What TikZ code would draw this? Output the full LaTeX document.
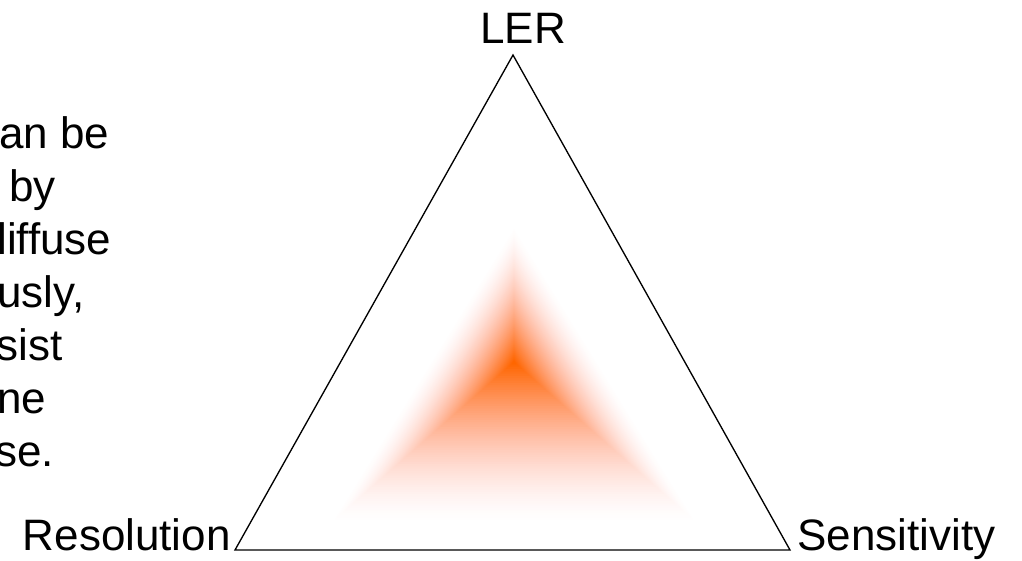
\documentclass[tikz,border=0pt]{standalone}
\usepackage{fontspec}
\setmainfont{Liberation Sans}
\usetikzlibrary{calc}
\definecolor{glow}{RGB}{255,102,0}
\definecolor{coral}{RGB}{255,80,60}
\begin{document}
\begin{tikzpicture}[
	x=0.75pt, y=-0.75pt,
	txt/.style={ inner sep=0pt, font=\fontsize{33}{40}\selectfont },
	side/.style={ draw, line width=1pt }
]
\useasboundingbox (0,0) rectangle (1022,561);
\clip (0,0) rectangle (1022,561);

\node[txt, anchor=base west] at (-1,148) (t1) {an be};
\node[txt, anchor=base west] at (9,201) (t2) {by};
\node[txt, anchor=base west] at (-3,254) (t3) {liffuse};
\node[txt, anchor=base west] at (-3,307) (t4) {usly,};
\node[txt, anchor=base west] at (-4,360) (t5) {sist};
\node[txt, anchor=base west] at (-3,413) (t6) {ne};
\node[txt, anchor=base west] at (-5,466) (t7) {se.};

\coordinate (gc) at (514,362);
\coordinate (ga) at (514,226);
\coordinate (gl) at (330,524);
\coordinate (gr) at (698,524);
\foreach \k in {0,...,69} {
	\pgfmathsetmacro{\s}{1-\k/70}
	\pgfmathsetmacro{\h}{100*\k/69}
	\pgfmathsetmacro{\p}{100*(\k/69)^1.5}
	\colorlet{hue}{glow!\h!coral}
	\fill[hue!\p!white] ($(gc)!\s!(ga)$) -- ($(gc)!\s!(gl)$) -- ($(gc)!\s!(gr)$) -- cycle;
}

\coordinate (ler) at (513,55);
\coordinate (res) at (235,550);
\coordinate (sen) at (790,550);
\draw[side] (ler) -- (res) -- (sen) -- cycle;
\node[txt, anchor=base] at (523,43) (lerlab) {LER};
\node[txt, anchor=base east] at (231,550) (reslab) {Resolution};
\node[txt, anchor=base west] at (797,550) (senlab) {Sensitivity};

\end{tikzpicture}
\end{document}
